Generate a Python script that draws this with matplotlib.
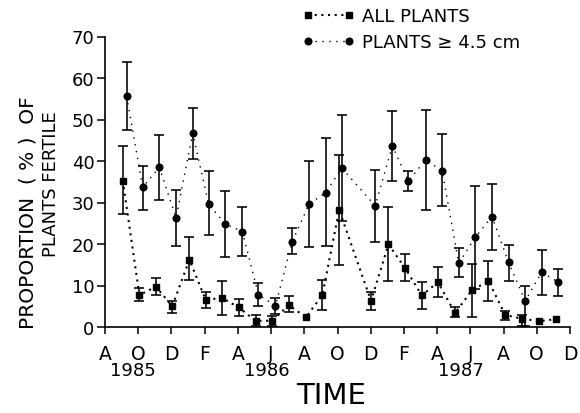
import numpy as np
import matplotlib
matplotlib.use("Agg")
import matplotlib.pyplot as plt

plt.rcParams['font.family'] = ['DejaVu Sans']

# months since Aug 1985
tick_pos = list(range(0, 29, 2))
tick_labels = ["A", "O", "D", "F", "A", "J", "A", "O", "D", "F", "A", "J", "A", "O", "D"]
year_labels = ["1985", "1986", "1987"]
year_pos = [1.7, 9.75, 21.4]

# PLANTS >= 4.5 cm (circles)
big_t = [1.3, 2.27, 3.27, 4.28, 5.28, 6.24, 7.25, 8.27, 9.24, 10.26, 11.28, 12.29, 13.29,
         14.26, 16.27, 17.3, 18.27, 19.3, 20.3, 21.3, 22.3, 23.3, 24.3, 25.3, 26.3, 27.3]
big_v = [55.6, 33.7, 38.5, 26.3, 46.7, 29.6, 24.8, 23.0, 7.8, 5.1, 20.6, 29.6, 32.4,
         38.3, 29.2, 43.6, 35.2, 40.2, 37.7, 15.4, 21.6, 26.6, 15.6, 6.3, 13.2, 10.8]
big_hi = [63.8, 38.9, 46.3, 33.0, 52.8, 37.5, 32.8, 28.8, 10.5, 6.9, 23.8, 40.1, 45.5,
          51.2, 37.9, 52.0, 37.7, 52.2, 46.5, 19.0, 34.0, 34.5, 19.8, 9.8, 18.6, 14.0]
big_lo = [47.4, 28.3, 30.6, 19.6, 40.6, 22.2, 16.8, 17.2, 5.1, 3.1, 17.6, 19.2, 19.6,
          25.6, 20.4, 35.1, 32.8, 28.3, 29.2, 12.0, 9.2, 18.6, 11.2, 0.3, 7.8, 7.5]

# ALL PLANTS (squares)
all_t = [1.07, 2.07, 3.07, 4.05, 5.08, 6.06, 7.07, 8.05, 9.07, 10.06, 11.08, 12.09, 13.09,
         14.1, 16.02, 17.07, 18.07, 19.08, 20.04, 21.08, 22.09, 23.09, 24.1, 25.1, 26.14, 27.15]
all_v = [35.3, 7.7, 9.7, 5.0, 16.2, 6.6, 7.0, 4.7, 1.5, 1.5, 5.3, 2.3, 7.7,
         28.2, 6.3, 19.9, 14.2, 7.6, 10.8, 3.4, 8.8, 11.1, 2.9, 2.0, 1.4, 1.9]
all_hi = [43.5, 9.3, 11.8, 6.3, 21.6, 8.4, 11.2, 6.7, 2.9, 2.7, 7.4, np.nan, 11.4,
          41.4, 8.4, 28.8, 17.6, 10.9, 14.4, 4.8, 15.2, 16.0, 3.9, 3.0, np.nan, np.nan]
all_lo = [27.2, 6.3, 7.8, 3.3, 11.3, 4.5, 2.9, 2.6, 0.2, 0.3, 3.5, np.nan, 4.2,
          15.0, 4.2, 11.2, 11.2, 4.3, 7.2, 2.3, 2.3, 6.3, 1.8, 0.3, np.nan, np.nan]

fig = plt.figure(figsize=(5.8, 4.14), dpi=100)
ax = fig.add_axes([105/580, 1-328/414, (570-105)/580, (328-37.5)/414])

def err(v, lo, hi):
    v = np.array(v, float); lo = np.array(lo, float); hi = np.array(hi, float)
    return np.vstack([v - lo, hi - v])

ax.errorbar(big_t, big_v, yerr=err(big_v, big_lo, big_hi), fmt='none', ecolor='black',
            elinewidth=1.15, capsize=3.5, capthick=1.15)
ax.errorbar(all_t, all_v, yerr=err(all_v, all_lo, all_hi), fmt='none', ecolor='black',
            elinewidth=1.15, capsize=3.5, capthick=1.15)

ax.plot(all_t, all_v, color='black', linestyle=(0, (1, 2.2)), linewidth=1.5,
        marker='s', markersize=5, label='ALL PLANTS')
ax.plot(big_t, big_v, color='black', linestyle=(0, (1, 4)), linewidth=1.0,
        marker='o', markersize=4.8, label='PLANTS \u2265 4.5 cm')

ax.set_xlim(0, 28)
ax.set_ylim(0, 70)
ax.set_xticks(tick_pos)
ax.set_xticklabels(tick_labels)
ax.set_yticks(range(0, 71, 10))
for s in ['top', 'right']:
    ax.spines[s].set_visible(False)
for s in ['left', 'bottom']:
    ax.spines[s].set_linewidth(1.2)
ax.tick_params(axis='y', direction='out', length=6, width=1.1, labelsize=13, pad=1.5)
ax.tick_params(axis='x', direction='out', length=5, width=1.1, labelsize=13.5, pad=7)

trans = matplotlib.transforms.blended_transform_factory(ax.transData, ax.transAxes)
for yl, xp in zip(year_labels, year_pos):
    ax.text(xp, -0.1497, yl, transform=trans, ha='center', va='center', fontsize=13)

fig.text(331/580, 1-396.5/414, 'TIME', ha='center', va='center', fontsize=21)
fig.text(28/580, 1-212.5/414, 'PROPORTION  ( % )  OF', rotation=90, ha='center', va='center', fontsize=14.5)
fig.text(51/580, 1-184/414, 'PLANTS FERTILE', rotation=90, ha='center', va='center', fontsize=13)

leg = ax.legend(loc='upper left', bbox_to_anchor=(302.6/580, 1-8/414), bbox_transform=fig.transFigure,
                frameon=False, numpoints=2, handlelength=2.88, handletextpad=0.42,
                labelspacing=0.47, borderpad=0, borderaxespad=0, fontsize=13)

fig.savefig('out.png', dpi=100)
